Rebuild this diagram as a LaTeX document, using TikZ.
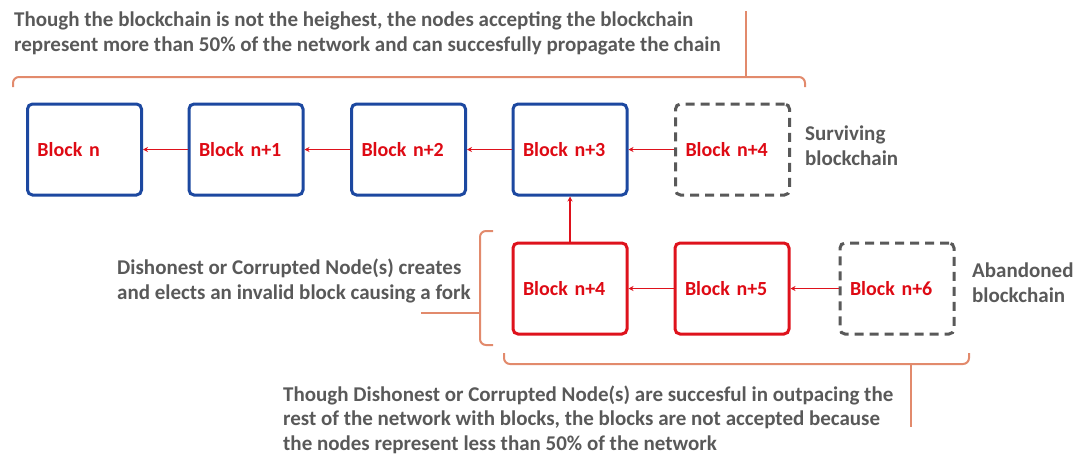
\documentclass[tikz,border=0pt]{standalone}
\usepackage{fontspec}
\setmainfont{Carlito}
\usetikzlibrary{arrows.meta}
\definecolor{bblue}{RGB}{28,72,160}
\definecolor{bred}{RGB}{222,18,28}
\definecolor{tred}{RGB}{222,10,20}
\definecolor{tgray}{RGB}{89,89,89}
\definecolor{brace}{RGB}{226,138,108}
\tikzset{
  x=1pt, y=-1pt,
  blockbox/.style={rectangle, rounded corners=5pt, line width=3pt,
    minimum width=114pt, minimum height=91pt, inner xsep=10pt,
    text width=94pt, align=left, text=tred,
    font=\fontsize{20}{24}\selectfont\bfseries},
  blueblock/.style={blockbox, draw=bblue},
  redblock/.style={blockbox, draw=bred},
  ghostblock/.style={blockbox, draw=tgray, dash pattern=on 9pt off 6pt},
  link/.style={draw=bred, line width=1.4pt, -{Stealth[length=5pt,width=5pt]}},
  note/.style={inner sep=0pt, text=tgray, align=left, anchor=base west,
    font=\fontsize{21}{24.5}\selectfont\bfseries},
  bracket/.style={draw=brace, line width=2pt, rounded corners=6pt},
  pointer/.style={draw=brace, line width=2pt},
}
\begin{document}
\begin{tikzpicture}
\useasboundingbox (0,0) rectangle (1080,456);
% top row
\node[blueblock] (b0) at (84.5,149.5) {Block n};
\node[blueblock] (b1) at (246,149.5) {Block n+1};
\node[blueblock] (b2) at (408.5,149.5) {Block n+2};
\node[blueblock] (b3) at (570,149.5) {Block n+3};
\node[ghostblock] (b4) at (732.5,149.5) {Block n+4};
% bottom row
\node[redblock] (f4) at (570,288.5) {Block n+4};
\node[redblock] (f5) at (732,288.5) {Block n+5};
\node[ghostblock] (f6) at (897,288.5) {Block n+6};
% links
\draw[link] (b1.west) -- (b0.east);
\draw[link] (b2.west) -- (b1.east);
\draw[link] (b3.west) -- (b2.east);
\draw[link] (b4.west) -- (b3.east);
\draw[link] (f4.north) -- (b3.south);
\draw[link] (f5.west) -- (f4.east);
\draw[link] (f6.west) -- (f5.east);
% texts (anchored at the baseline of their last line)
\node[note] (ttop) at (14,51) {Though the blockchain is not the heighest, the nodes accepting the blockchain\\represent more than 50\% of the network and can succesfully propagate the chain};
\node[note] (tsurv) at (805,165) {Surviving\\blockchain};
\node[note] (taband) at (972,302) {Abandoned\\blockchain};
\node[note] (tdis) at (117,299) {Dishonest or Corrupted Node(s) creates\\and elects an invalid block causing a fork};
\node[note] (tbot) at (283,450) {Though Dishonest or Corrupted Node(s) are succesful in outpacing the\\rest of the network with blocks, the blocks are not accepted because\\the nodes represent less than 50\% of the network};
% top bracket
\coordinate (tpa) at (746,77);
\coordinate (tpb) at (746,11);
\draw[bracket] (13,87) -- (13,77) -- (805,77) -- (805,87);
\draw[pointer] (tpa) -- (tpb);
% left bracket
\coordinate (lpa) at (480,313);
\coordinate (lpb) at (421,313);
\draw[bracket] (493,231) -- (480,231) -- (480,345) -- (493,345);
\draw[pointer] (lpa) -- (lpb);
% bottom bracket
\coordinate (bpa) at (911,364);
\coordinate (bpb) at (911,427);
\draw[bracket] (504,353) -- (504,364) -- (969,364) -- (969,353);
\draw[pointer] (bpa) -- (bpb);
\end{tikzpicture}
\end{document}
